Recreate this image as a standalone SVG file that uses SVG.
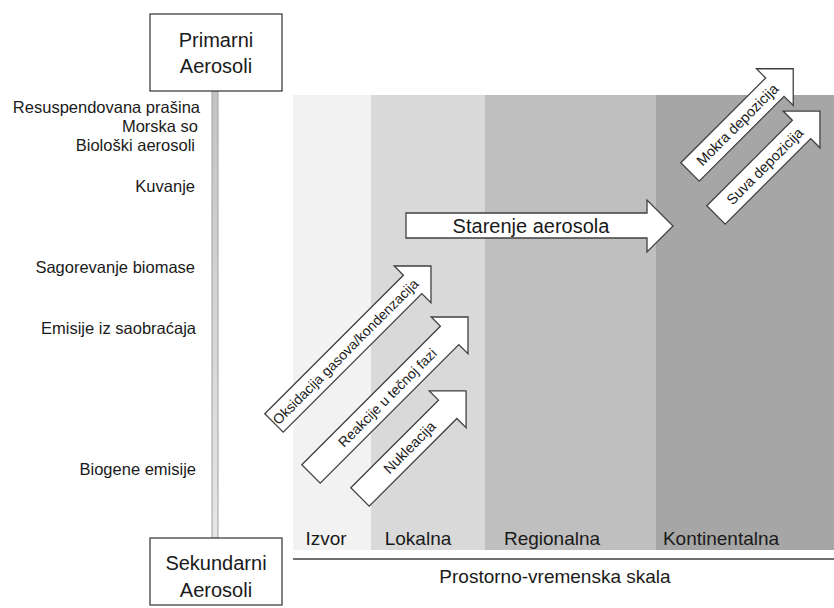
<svg xmlns="http://www.w3.org/2000/svg" width="834" height="608" viewBox="0 0 834 608">
<defs>
<linearGradient id="barGrad" x1="0" y1="0" x2="0" y2="1">
<stop offset="0" stop-color="#c4c4c4"/>
<stop offset="1" stop-color="#e6e6e6"/>
</linearGradient>
<style>
text{font-family:"Liberation Sans",Arial,sans-serif;fill:#1a1a1a}
.box{fill:#fff;stroke:#404040;stroke-width:1.3}
.arr{fill:#fff;stroke:#404040;stroke-width:1.3;stroke-linejoin:miter}
.lbl{font-size:16.5px;text-anchor:end}
.boxt{font-size:20px;text-anchor:middle}
.band{font-size:19px;text-anchor:middle}
.at{font-size:14px;text-anchor:middle}
.at2{font-size:14.5px;text-anchor:middle}
</style>
</defs>
<rect width="834" height="608" fill="#fff"/>
<g id="bands">
<rect x="293" y="95" width="78" height="455" fill="#f2f2f2"/>
<rect x="371" y="95" width="114" height="455" fill="#d9d9d9"/>
<rect x="485" y="95" width="171" height="455" fill="#bfbfbf"/>
<rect x="656" y="95" width="178" height="455" fill="#a6a6a6"/>
<text class="band" x="326" y="545">Izvor</text>
<text class="band" x="418" y="545">Lokalna</text>
<text class="band" x="552" y="545">Regionalna</text>
<text class="band" x="721" y="545">Kontinentalna</text>
</g>
<g id="axis">
<line x1="293" y1="559" x2="834" y2="559" stroke="#404040" stroke-width="1.5"/>
<text class="band" x="555" y="583">Prostorno-vremenska skala</text>
</g>
<g id="bar">
<rect x="212" y="91" width="6" height="447" fill="url(#barGrad)" stroke="#a0a0a0" stroke-width="1"/>
</g>
<g id="primarni">
<rect class="box" x="150" y="14" width="132" height="77"/>
<text class="boxt" x="216" y="47">Primarni</text>
<text class="boxt" x="216" y="73">Aerosoli</text>
</g>
<g id="sekundarni">
<rect class="box" x="150" y="538" width="132" height="67"/>
<text class="boxt" x="216" y="570">Sekundarni</text>
<text class="boxt" x="216" y="597">Aerosoli</text>
</g>
<g id="sources">
<text class="lbl" x="200" y="113">Resuspendovana prašina</text>
<text class="lbl" x="198" y="132">Morska so</text>
<text class="lbl" x="195" y="151">Biološki aerosoli</text>
<text class="lbl" x="195" y="192">Kuvanje</text>
<text class="lbl" x="195" y="273">Sagorevanje biomase</text>
<text class="lbl" x="196" y="334">Emisije iz saobraćaja</text>
<text class="lbl" x="196" y="475">Biogene emisije</text>
</g>
<g id="connectors">
<g id="starenje">
<polygon class="arr" points="406,213 647,213 647,200 673,226 647,252 647,238 406,238"/>
<text x="531" y="233" style="font-size:20px;text-anchor:middle">Starenje aerosola</text>
</g>
<g id="oksidacija" transform="translate(274,423) rotate(-45)">
<polygon class="arr" points="0,-13 196,-13 196,-26 222,0 196,26 196,13 0,13"/>
<text class="at" x="101" y="5">Oksidacija gasova/kondenzacija</text>
</g>
<g id="reakcije" transform="translate(311,474) rotate(-45)">
<polygon class="arr" points="0,-13 196,-13 196,-26 222,0 196,26 196,13 0,13"/>
<text class="at" x="108" y="5">Reakcije u tečnoj fazi</text>
</g>
<g id="nukleacija" transform="translate(360,497) rotate(-45)">
<polygon class="arr" points="0,-13 124,-13 124,-26 150,0 124,26 124,13 0,13"/>
<text class="at2" x="70" y="5">Nukleacija</text>
</g>
<g id="mokra" transform="translate(690,172) rotate(-45)">
<polygon class="arr" points="0,-13 120,-13 120,-26 146,0 120,26 120,13 0,13"/>
<text class="at2" x="67" y="5">Mokra depozicija</text>
</g>
<g id="suva" transform="translate(716,215) rotate(-45)">
<polygon class="arr" points="0,-13 121,-13 121,-26 147,0 121,26 121,13 0,13"/>
<text class="at2" x="69" y="5">Suva depozicija</text>
</g>
</g>
</svg>
